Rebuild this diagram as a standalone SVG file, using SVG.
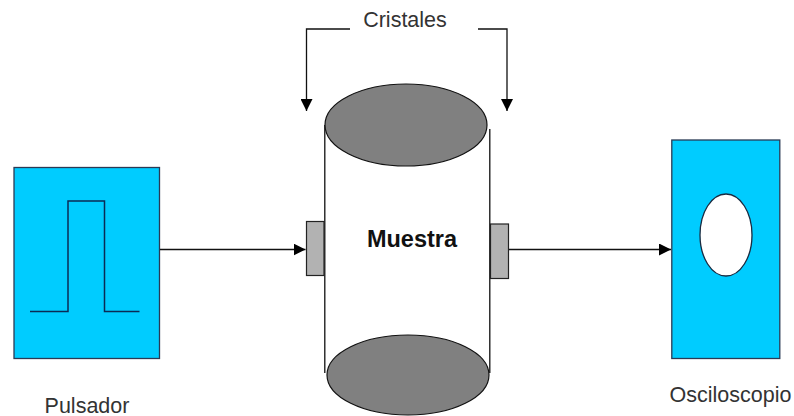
<svg xmlns="http://www.w3.org/2000/svg" width="794" height="416" viewBox="0 0 794 416">
<style>
.l{fill:none;stroke:#111;stroke-width:1.3}
.b{fill:#00ccff;stroke:#2a3a55;stroke-width:1.3}
.c{fill:#808080;stroke:#111;stroke-width:1.2}
.t{fill:#b2b2b2;stroke:#222;stroke-width:1.2}
.x{font-family:"Liberation Sans",Arial,sans-serif;font-size:21.5px;fill:#333}
</style>
<defs>
<marker id="a" markerWidth="13" markerHeight="12" refX="12" refY="6" orient="auto" markerUnits="userSpaceOnUse"><path d="M0 0L12 6L0 12Z" fill="#000"/></marker>
</defs>
<rect width="794" height="416" fill="#fff"/>
<g id="pulsador">
<rect class="b" x="14" y="167.500" width="145.500" height="191"/>
<path d="M30 311.500H68V201H104.500V311.500H139.500" fill="none" stroke="#0b2a55" stroke-width="1.5"/>
<text class="x" x="87" y="412.500" text-anchor="middle">Pulsador</text>
</g>
<g id="muestra">
<path class="l" d="M324.800 125V373M489.800 129V373"/>
<rect class="t" x="306.500" y="221.500" width="17.500" height="54"/>
<rect class="t" x="490.500" y="224" width="18" height="54.500"/>
<ellipse class="c" cx="406" cy="125" rx="81" ry="41"/>
<ellipse class="c" cx="408" cy="375" rx="81" ry="40"/>
<text x="412" y="247" text-anchor="middle" font-family="'Liberation Sans',Arial,sans-serif" font-size="23.500" font-weight="bold" fill="#111">Muestra</text>
</g>
<g id="osciloscopio">
<rect class="b" x="671.800" y="140" width="108" height="218.500"/>
<ellipse cx="726" cy="235" rx="26" ry="41" fill="#fff" stroke="#1a2a40" stroke-width="1.300"/>
<text class="x" x="730.500" y="401.500" text-anchor="middle">Osciloscopio</text>
</g>
<g id="cristales">
<text class="x" x="405" y="27" text-anchor="middle">Cristales</text>
</g>
<g id="connectors">
<path class="l" d="M350 29H306.500V111" marker-end="url(#a)"/>
<path class="l" d="M478 29H507V111" marker-end="url(#a)"/>
<path class="l" d="M160 249.500H305.500" marker-end="url(#a)"/>
<path class="l" d="M509 249.500H671" marker-end="url(#a)"/>
</g>
</svg>
